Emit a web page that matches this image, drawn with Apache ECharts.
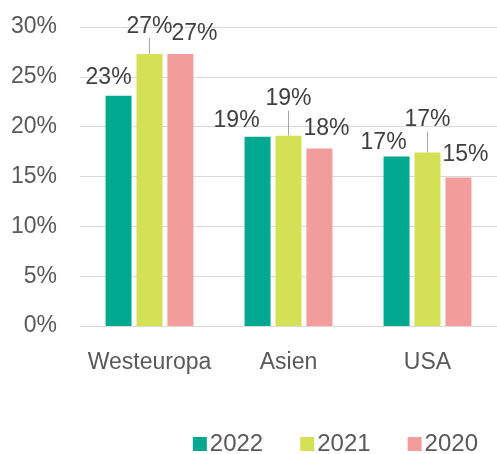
<!DOCTYPE html>
<html>
<head>
<meta charset="utf-8">
<script src="https://cdn.jsdelivr.net/npm/echarts@6/dist/echarts.min.js"></script>
<style>
  html, body { margin: 0; padding: 0; background: #fff; }
  #chart { width: 497px; height: 454px; }
</style>
</head>
<body>
<div id="chart"></div>
<script>
const categories = ["Westeuropa", "Asien", "USA"];
const years = ["2022", "2021", "2020"];
const values2022 = [23.1, 19.0, 17.0];
const values2021 = [27.3, 19.1, 17.4];
const values2020 = [27.3, 17.8, 14.9];
const yTicks = [0, 5, 10, 15, 20, 25, 30];

// label shifts from the default "top" position, per series and category
const labelShift = {
  "2022": [[-10, -2], [-21, 1], [-13, 3]],
  "2021": [[0, -11], [0, -20], [0, -16]],
  "2020": [[14, -4], [7, -3], [7, -6]],
};

const colors = ["#00A88F", "#D4E157", "#F29D9B"];
const font = "'Liberation Sans', Arial, sans-serif";

const chart = echarts.init(document.getElementById("chart"));

function makeSeries(name, data, color, withLine) {
  return {
    name: name,
    type: "bar",
    data: data,
    barWidth: 26,
    barGap: "19%",
    itemStyle: { color: color },
    label: {
      show: true,
      position: "top",
      distance: 5,
      color: "#404040",
      fontFamily: font,
      fontSize: 23,
      formatter: (p) => Math.round(p.value) + "%",
    },
    labelLine: {
      show: withLine,
      lineStyle: { color: "#a6a6a6", width: 1 },
    },
    labelLayout: (params) => {
      const s = labelShift[name][params.dataIndex];
      return { dx: s[0], dy: s[1] };
    },
  };
}

const option = {
  animation: false,
  color: colors,
  grid: { left: 80, right: 0, top: 27, bottom: 128 },
  legend: {
    data: years,
    right: 19,
    top: 432,
    padding: 0,
    icon: "rect",
    itemWidth: 14,
    itemHeight: 14,
    itemGap: 37,
    textStyle: { color: "#595959", fontFamily: font, fontSize: 24, padding: [0, 0, 0, -2] },
  },
  xAxis: {
    type: "category",
    data: categories,
    axisLine: { lineStyle: { color: "#d9d9d9", width: 1 } },
    axisTick: { show: false },
    axisLabel: { color: "#595959", fontFamily: font, fontSize: 23, margin: 25, interval: 0 },
  },
  yAxis: {
    type: "value",
    min: yTicks[0],
    max: yTicks[yTicks.length - 1],
    interval: 5,
    axisLine: { show: false },
    axisTick: { show: false },
    splitLine: { lineStyle: { color: "#d9d9d9", width: 1 } },
    axisLabel: {
      color: "#595959",
      fontFamily: font,
      fontSize: 23,
      margin: 23,
      formatter: "{value}%",
    },
  },
  series: [
    makeSeries("2022", values2022, colors[0], false),
    makeSeries("2021", values2021, colors[1], true),
    makeSeries("2020", values2020, colors[2], false),
  ],
};

chart.setOption(option);
</script>
</body>
</html>
